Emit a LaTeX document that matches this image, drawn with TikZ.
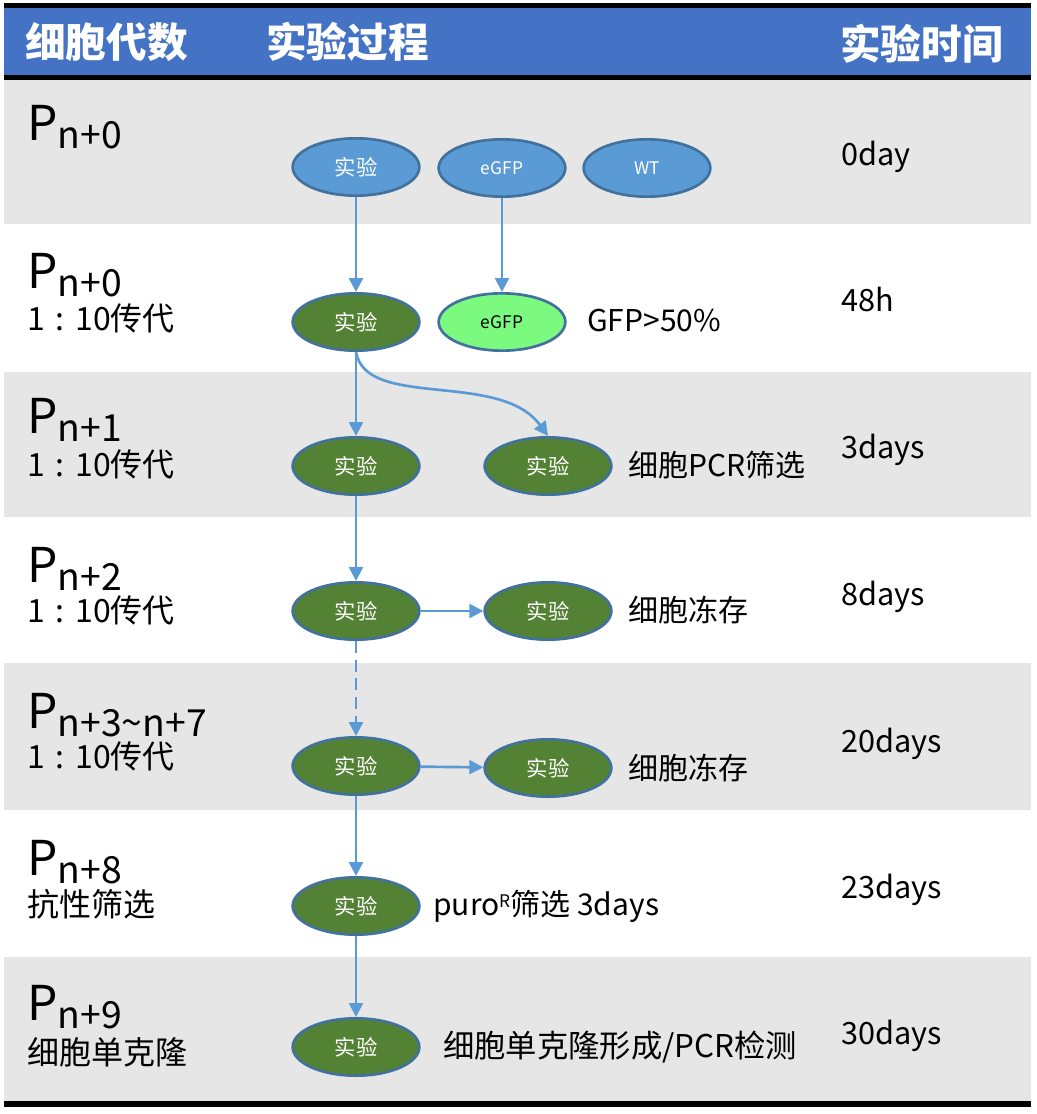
\documentclass[tikz,border=0pt]{standalone}
\usepackage{fontspec}
\setmainfont{Noto Sans CJK SC}
\usetikzlibrary{shapes.geometric,arrows.meta}
\definecolor{hdr}{HTML}{4472C4}
\definecolor{rowgray}{HTML}{E7E6E6}
\definecolor{arr}{HTML}{5B9BD5}
\definecolor{ebord}{HTML}{41719C}
\definecolor{eblue}{HTML}{5B9BD5}
\definecolor{egreen}{HTML}{548235}
\definecolor{elight}{HTML}{7CFA80}
\newcommand{\plabel}[1]{{\fontsize{36}{40}\selectfont P\raisebox{-6pt}{\fontsize{28}{30}\selectfont #1}}}
\newcommand{\ratio}{1\makebox[0.95em]{:}10}
\begin{document}
\begin{tikzpicture}[x=0.75pt,y=-0.75pt,
  hdrtxt/.style={anchor=west,inner sep=0,text=white,font=\fontsize{30.5}{34}\selectfont\bfseries},
  plab/.style={anchor=base west,inner sep=0},
  sublab/.style={anchor=base west,inner sep=0,font=\fontsize{24}{28}\selectfont},
  timelab/.style={anchor=base west,inner sep=0,font=\fontsize{23}{26}\selectfont},
  proclab/.style={anchor=west,inner sep=0,font=\fontsize{22.5}{26}\selectfont},
  ell/.style={ellipse,draw=ebord,line width=2pt,minimum width=95pt,minimum height=43pt,inner sep=0,text=white,font=\fontsize{16}{18}\selectfont},
  eb/.style={ell,fill=eblue},
  eg/.style={ell,fill=egreen},
  el/.style={ell,fill=elight,text=black},
  conn/.style={draw=arr,line width=2pt,-{Triangle[width=10.5pt,length=10.5pt]}}
]
\useasboundingbox (0,0) rectangle (1036,1114);
\fill[white] (0,0) rectangle (1036,1114);
% row backgrounds
\fill[rowgray] (4,80) rectangle (1031,224);
\fill[rowgray] (4,372) rectangle (1031,517);
\fill[rowgray] (4,663) rectangle (1031,810);
\fill[rowgray] (4,957) rectangle (1031,1101);
% header
\fill[black] (4,3) rectangle (1031,80);
\fill[hdr] (4,8) rectangle (1031,75);
\fill[black] (4,1101) rectangle (1031,1107);
\node[hdrtxt] (h1) at (25,42) {细胞代数};
\node[hdrtxt] (h2) at (266,42) {实验过程};
\node[hdrtxt] (h3) at (840,44) {实验时间};
% left column
\node[plab] (p1) at (27,140) {\plabel{n+0}};
\node[plab] (p2) at (27,288) {\plabel{n+0}};
\node[sublab] (s2) at (27,330) {\ratio 传代};
\node[plab] (p3) at (27,433) {\plabel{n+1}};
\node[sublab] (s3) at (27,476) {\ratio 传代};
\node[plab] (p4) at (27,582) {\plabel{n+2}};
\node[sublab] (s4) at (27,622) {\ratio 传代};
\node[plab] (p5) at (27,728) {\plabel{n+3\char"007E n+7}};
\node[sublab] (s5) at (27,768) {\ratio 传代};
\node[plab] (p6) at (27,875) {\plabel{n+8}};
\node[sublab] (s6) at (27,916) {抗性筛选};
\node[plab] (p7) at (27,1020) {\plabel{n+9}};
\node[sublab] (s7) at (27,1064) {细胞单克隆};
% right column
\node[timelab] (t1) at (841,165) {0day};
\node[timelab] (t2) at (841,311) {48h};
\node[timelab] (t3) at (841,458) {3days};
\node[timelab] (t4) at (841,605) {8days};
\node[timelab] (t5) at (841,752) {20days};
\node[timelab] (t6) at (841,898) {23days};
\node[timelab] (t7) at (841,1044) {30days};
% ellipses
\node[eb] (a1) at (356,167) {实验};
\node[eb,font=\fontsize{13}{15}\selectfont] (g1) at (502,168) {eGFP};
\node[eb,font=\fontsize{13}{15}\selectfont] (w1) at (647,168) {WT};
\node[eg] (a2) at (356,322) {实验};
\node[el,font=\fontsize{13}{15}\selectfont] (g2) at (502,322) {eGFP};
\node[eg] (a3) at (356,466) {实验};
\node[eg] (b3) at (548,466) {实验};
\node[eg] (a4) at (356,611) {实验};
\node[eg] (b4) at (548,611) {实验};
\node[eg] (a5) at (356,766) {实验};
\node[eg] (b5) at (548,768) {实验};
\node[eg] (a6) at (356,906) {实验};
\node[eg] (a7) at (356,1047) {实验};
% process labels
\node[proclab] (l2) at (587,320) {GFP>50\%};
\node[proclab] (l3) at (628,465) {细胞PCR筛选};
\node[proclab] (l4) at (628,610) {细胞冻存};
\node[proclab] (l5) at (628,768) {细胞冻存};
\node[proclab] (l6) at (433,906) {puro\raisebox{6pt}{\fontsize{13}{14}\selectfont R}筛选 3days};
\node[proclab,font=\fontsize{23.5}{26}\selectfont] (l7) at (443,1047) {细胞单克隆形成/PCR检测};
% connectors
\draw[conn] (a1) -- (a2);
\draw[conn] (g1) -- (g2);
\draw[conn] (a2) -- (a3);
\draw[conn] (a2.south) .. controls (366,410) and (500,370) .. (b3.north);
\draw[conn] (a3) -- (a4);
\draw[conn,dashed,dash pattern=on 9pt off 5pt] (a4) -- (a5);
\draw[conn] (a4) -- (b4);
\draw[conn] (a5) -- (b5);
\draw[conn] (a5) -- (a6);
\draw[conn] (a6) -- (a7);
\end{tikzpicture}
\end{document}
